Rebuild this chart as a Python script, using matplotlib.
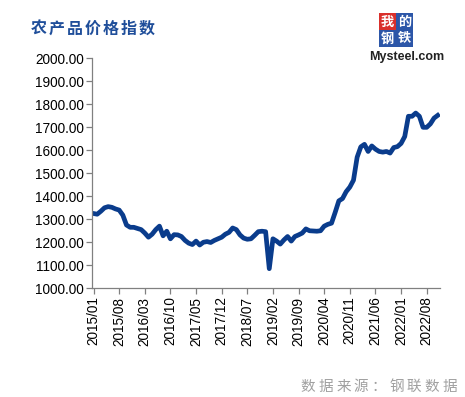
import matplotlib
matplotlib.use("Agg")
import matplotlib.pyplot as plt
from matplotlib.patches import Rectangle

# monthly index, 2015/01 .. 2022/11
months = [f"{2015 + i // 12}/{i % 12 + 1:02d}" for i in range(95)]
index_values = [
    1325, 1322, 1335, 1350, 1355, 1352, 1345, 1340, 1318, 1275,
    1265, 1265, 1260, 1255, 1240, 1222, 1235, 1255, 1270, 1228,
    1248, 1215, 1233, 1232, 1225, 1208, 1196, 1190, 1205, 1188,
    1200, 1203, 1199, 1208, 1215, 1222, 1235, 1243, 1262, 1255,
    1232, 1218, 1213, 1215, 1230, 1246, 1248, 1246, 1085, 1215,
    1205, 1192, 1210, 1225, 1205, 1225, 1232, 1240, 1258, 1250,
    1249, 1248, 1250, 1270, 1278, 1283, 1330, 1380, 1390, 1420,
    1440, 1470, 1570, 1615, 1626, 1595, 1619, 1605, 1595, 1592,
    1595, 1588, 1612, 1616, 1630, 1660, 1748, 1748, 1762, 1748,
    1700, 1700, 1715, 1740, 1752,
]
y_ticks = [1000, 1100, 1200, 1300, 1400, 1500, 1600, 1700, 1800, 1900, 2000]
tick_step = 7

TITLE = "农产品价格指数"
SOURCE = "数据来源：钢联数据"

LINE_COLOR = "#0a3c8c"
CJK = ["Noto Sans CJK SC", "DejaVu Sans"]
W, H = 465, 397


def spaced_text(fig, text, x_px, y_px, pitch_px, **kw):
    # place CJK characters one by one to mimic the wide spacing of the original
    for k, ch in enumerate(text):
        fig.text((x_px + k * pitch_px) / W, 1 - y_px / H, ch, ha="center", va="center", **kw)


fig = plt.figure(figsize=(W / 100, H / 100), dpi=100)
ax = fig.add_axes([0.198, 0.274, 0.748, 0.579])

x = list(range(len(index_values)))
ax.plot(x, index_values, color=LINE_COLOR, lw=3.4, solid_joinstyle="round")

ax.set_xlim(-0.4, 94.6)
ax.set_ylim(1000, 2000)
ax.set_yticks(y_ticks)
ax.set_yticklabels([f"{v:.2f}" for v in y_ticks], family="Liberation Sans", fontsize=9.8)
xt = list(range(0, len(months), tick_step))
ax.set_xticks(xt)
ax.set_xticklabels([months[i] for i in xt], rotation=90, family="Liberation Sans", fontsize=9.8)

for side in ("top", "right"):
    ax.spines[side].set_visible(False)
for side in ("left", "bottom"):
    ax.spines[side].set_color("#808080")
    ax.spines[side].set_linewidth(0.9)
ax.tick_params(axis="both", direction="out", length=4, width=0.9, color="#808080", pad=2)

spaced_text(fig, TITLE, 39, 29, 18, family=CJK, fontsize=11.5, fontweight="bold", color="#1f4e9a")
spaced_text(fig, SOURCE, 308, 387, 17.7, family=CJK, fontsize=10.5, color="#a0a0a0")

# logo
box = 17
logo = [("我", "#d9302c", 0, 0), ("的", "#2c56a8", 1, 0), ("钢", "#2c56a8", 0, 1), ("铁", "#2c56a8", 1, 1)]
for ch, col, cx, cy in logo:
    left_px = 379 + cx * box
    top_px = 13 + cy * box
    fig.add_artist(Rectangle((left_px / W, 1 - (top_px + box) / H), box / W, box / H,
                             transform=fig.transFigure, facecolor=col, edgecolor="none"))
    fig.text((left_px + box / 2) / W, 1 - (top_px + box / 2) / H, ch, family=CJK, fontsize=9.5,
             fontweight="bold", color="white", ha="center", va="center")
fig.text(407 / W, 1 - 57 / H, "Mysteel.com", family="Liberation Sans", fontsize=9,
         fontweight="bold", color="#222222", ha="center", va="center")

fig.savefig("out.png", dpi=100)
